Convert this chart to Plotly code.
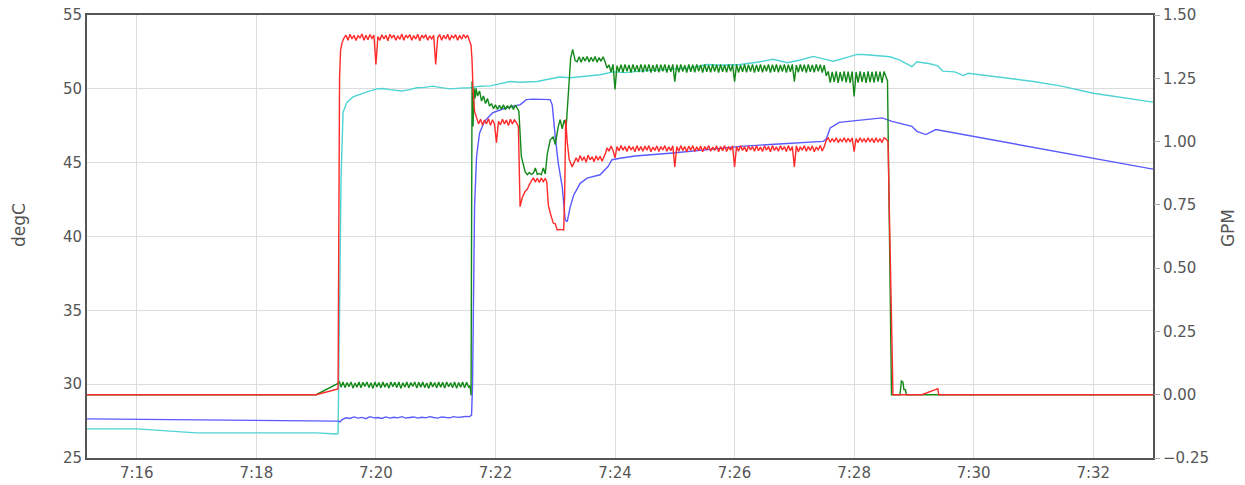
import pandas as pd
import plotly.graph_objects as go

BASE = pd.Timestamp("2024-01-01 07:15:00")

# ---- data: times in seconds after 7:15:00 ----
# regularly sampled bursts are stored as (start_s, step_s, values)

# Red (GPM)
RED_A_T = [10, 240, 262, 263.5, 264.5, 266]
RED_A_V = [0.0, 0.0, 0.023, 1.25, 1.36, 1.39]
RED_J1 = (268, 2, [1.41, 1.42, 1.40, 1.424, 1.405, 1.42, 1.399, 1.418, 1.41, 1.425, 1.40, 1.42, 1.402, 1.423, 1.408, 1.42,
                   1.305,
                   1.415, 1.40, 1.422, 1.405, 1.42, 1.398, 1.424, 1.41, 1.42, 1.40, 1.418, 1.404, 1.425, 1.40, 1.42, 1.41,
                   1.423, 1.40, 1.419, 1.405, 1.424, 1.398, 1.42, 1.41, 1.422, 1.40, 1.418, 1.406, 1.42,
                   1.305,
                   1.41, 1.423, 1.40, 1.42, 1.405, 1.424, 1.40, 1.418, 1.41, 1.422, 1.40, 1.42, 1.404, 1.423, 1.41, 1.42, 1.40])
RED_B_T = [395.5, 396.5, 397.5, 399, 401]
RED_B_V = [1.38, 1.32, 1.20, 1.12, 1.09]
RED_J2 = (403, 2, [1.07, 1.088, 1.065, 1.085, 1.07, 1.09, 1.064, 1.086, 1.07, 0.996, 1.08, 1.066, 1.088, 1.07, 1.085,
                   1.063, 1.088, 1.07, 1.086, 1.075])
RED_C_T = [443, 444.7, 447, 449.8, 452, 454, 456]
RED_C_V = [1.06, 0.743, 0.78, 0.803, 0.812, 0.83, 0.845]
RED_J3 = (458, 2, [0.857, 0.84, 0.855, 0.838, 0.856, 0.842, 0.855])
RED_D_T = [471.5, 473, 475, 478, 480, 482, 485, 488.5, 489.5, 490.5, 492, 494, 497, 499]
RED_D_V = [0.84, 0.75, 0.718, 0.678, 0.675, 0.651, 0.653, 0.651, 0.8, 1.087, 1.0, 0.93, 0.9, 0.92]
RED_J4 = (501, 2, [0.936, 0.92, 0.945, 0.925, 0.94, 0.918, 0.946, 0.928, 0.94, 0.92, 0.944, 0.926, 0.942, 0.922, 0.94])
RED_E_T = [530.5]
RED_E_V = [0.955]
RED_J5 = (532, 2, [0.975, 0.962, 0.982, 0.965, 0.936, 0.98, 0.963, 0.984, 0.966, 0.98,
                   0.961, 0.983, 0.968, 0.978, 0.96, 0.984, 0.964, 0.98, 0.962, 0.982,
                   0.966, 0.984, 0.96, 0.978, 0.965, 0.983, 0.961, 0.98, 0.967, 0.984,
                   0.962, 0.979, 0.964, 0.983, 0.90, 0.98, 0.962, 0.984, 0.965, 0.98,
                   0.96, 0.982, 0.966, 0.984, 0.961, 0.979, 0.964, 0.983, 0.96, 0.98,
                   0.967, 0.984, 0.962, 0.978, 0.965, 0.983, 0.96, 0.98, 0.964, 0.984,
                   0.961, 0.98, 0.966, 0.983, 0.90, 0.98, 0.962, 0.984, 0.965, 0.979,
                   0.96, 0.983, 0.967, 0.98, 0.962, 0.984, 0.964, 0.978, 0.961, 0.983,
                   0.966, 0.98, 0.96, 0.984, 0.965, 0.979, 0.962, 0.983, 0.967, 0.98,
                   0.961, 0.984, 0.964, 0.98, 0.90, 0.983, 0.96, 0.979, 0.966, 0.984,
                   0.962, 0.98, 0.965, 0.983, 0.96, 0.978, 0.967, 0.984, 0.963, 0.98])
RED_J6 = (752, 2, [1.005, 1.015, 0.997, 1.012, 0.999, 1.015, 0.996, 1.01, 1.0, 1.015,
                   0.997, 1.013, 0.998, 1.015, 0.96, 1.012, 0.996, 1.015, 1.0, 1.011,
                   0.997, 1.015, 0.999, 1.013, 0.995, 1.015, 0.998, 1.012, 0.996, 1.015, 1.01])
RED_F_T = [814, 819, 848, 864, 865, 1080]
RED_F_V = [1.0, 0.0, 0.0, 0.024, 0.0, 0.0]

# Green (GPM)
GRN_A_T = [10, 240, 262, 263.5]
GRN_A_V = [0.0, 0.0, 0.045, 0.05]
GRN_J1 = (265, 2, [0.03, 0.05, 0.028, 0.048, 0.032, 0.05, 0.026, 0.046, 0.03, 0.05,
                   0.027, 0.049, 0.033, 0.05, 0.028, 0.047, 0.025, 0.05, 0.031, 0.048,
                   0.027, 0.05, 0.03, 0.046, 0.026, 0.05, 0.032, 0.049, 0.028, 0.05,
                   0.025, 0.047, 0.03, 0.05, 0.027, 0.048, 0.033, 0.05, 0.026, 0.049,
                   0.03, 0.05, 0.028, 0.046, 0.025, 0.05, 0.031, 0.048, 0.027, 0.05,
                   0.03, 0.049, 0.026, 0.05, 0.032, 0.047, 0.028, 0.05, 0.025, 0.048,
                   0.03, 0.05, 0.027, 0.049, 0.03])
GRN_B_T = [394.5, 395.5, 396.5, 397.5, 398.5, 399.5, 400.5, 402, 404, 406, 408, 410, 412, 414, 416, 418]
GRN_B_V = [0.035, -0.003, 1.238, 1.06, 1.21, 1.17, 1.21, 1.18, 1.20, 1.16, 1.18, 1.15, 1.17, 1.14, 1.15, 1.13]
GRN_J2 = (420, 2, [1.145, 1.127, 1.143, 1.128, 1.145, 1.126, 1.142, 1.13, 1.145, 1.127, 1.144, 1.13])
GRN_C_T = [443.5, 446, 449.8]
GRN_C_V = [1.12, 0.94, 0.88]
GRN_J3 = (452, 2, [0.869, 0.878, 0.87, 0.875, 0.896, 0.87, 0.874, 0.869, 0.896, 0.872])
GRN_D_T = [472, 475, 478, 480, 483]
GRN_D_V = [0.95, 1.007, 1.019, 0.988, 1.059]
GRN_J4 = (485, 2, [1.087, 1.05, 1.085, 1.06])
GRN_E_T = [493, 495.5, 497.5, 500]
GRN_E_V = [1.194, 1.33, 1.364, 1.32]
GRN_J5 = (502, 2, [1.315, 1.335, 1.313, 1.334, 1.318, 1.336, 1.314, 1.333, 1.316, 1.336, 1.313, 1.332, 1.317, 1.335, 1.315])
GRN_J6 = (532, 2, [1.29, 1.303, 1.275, 1.305, 1.206, 1.30, 1.276, 1.304, 1.274, 1.305,
                   1.278, 1.303, 1.273, 1.305, 1.277, 1.302, 1.275, 1.305, 1.274, 1.304,
                   1.277, 1.305, 1.273, 1.302, 1.276, 1.305, 1.274, 1.304, 1.278, 1.305,
                   1.273, 1.303, 1.276, 1.305, 1.237, 1.304, 1.274, 1.305, 1.277, 1.302,
                   1.273, 1.305, 1.276, 1.304, 1.274, 1.305, 1.278, 1.303, 1.273, 1.305,
                   1.276, 1.302, 1.274, 1.305, 1.277, 1.304, 1.273, 1.305, 1.276, 1.303,
                   1.274, 1.305, 1.278, 1.304, 1.237, 1.305, 1.273, 1.302, 1.276, 1.305,
                   1.274, 1.304, 1.277, 1.305, 1.273, 1.303, 1.276, 1.305, 1.274, 1.302,
                   1.278, 1.305, 1.273, 1.304, 1.276, 1.305, 1.274, 1.303, 1.277, 1.305,
                   1.273, 1.304, 1.276, 1.305, 1.237, 1.302, 1.274, 1.305, 1.277, 1.304,
                   1.273, 1.305, 1.276, 1.303, 1.274, 1.305, 1.278, 1.304, 1.273, 1.302])
GRN_J7 = (752, 2, [1.26, 1.277, 1.233, 1.275, 1.236, 1.277, 1.232, 1.274, 1.238, 1.277,
                   1.234, 1.276, 1.232, 1.277, 1.178, 1.275, 1.233, 1.277, 1.236, 1.274,
                   1.232, 1.277, 1.235, 1.275, 1.233, 1.277, 1.237, 1.276, 1.232, 1.277, 1.25])
GRN_F_T = [813.5, 817.5, 826, 827.5, 829, 830, 831.5, 832.5, 1080]
GRN_F_V = [1.24, 0.0, 0.0, 0.054, 0.05, 0.02, 0.02, 0.0, 0.0]

# Cyan (degC)
CYAN_T = [10, 60, 120, 184, 240, 260, 262, 263.5, 265, 267, 271, 277, 284, 291, 301, 307, 314, 326, 334, 341, 349,
          357, 364, 374.5, 384.5, 394.5, 404.6, 414.6, 421.6, 434.7, 444.7, 461.8, 472.8, 484.9, 495, 505, 515, 525,
          538, 550, 565, 580, 598, 615, 632, 645, 665.6, 682.7, 698.7, 712.8, 726, 739, 748, 759, 771, 783, 789, 801,
          816, 826, 838, 843, 856, 864, 869, 881, 889.5, 894.5, 926.7, 959.8, 987, 1020, 1080]
CYAN_V = [26.97, 26.97, 26.70, 26.72, 26.70, 26.63, 26.65, 35.0, 44.0, 48.4, 49.1, 49.45, 49.65, 49.8, 50.0, 50.02,
          49.95, 49.85, 49.95, 50.07, 50.1, 50.18, 50.1, 50.0, 50.05, 50.07, 50.18, 50.2, 50.3, 50.5, 50.45, 50.5,
          50.65, 50.8, 50.75, 50.8, 50.85, 50.95, 51.15, 51.1, 51.2, 51.25, 51.3, 51.4, 51.65, 51.6, 51.65, 51.8,
          52.0, 51.77, 51.95, 52.2, 52.05, 51.87, 52.1, 52.33, 52.33, 52.25, 52.17, 51.95, 51.5, 51.83, 51.7, 51.55,
          51.2, 51.15, 50.9, 51.05, 50.8, 50.5, 50.2, 49.7, 49.1]

# Blue (degC)
BLU_A_T = [10, 260, 262, 264]
BLU_A_V = [27.65, 27.53, 27.5, 27.45]
BLU_J1 = (266, 4, [27.6, 27.72, 27.68, 27.78, 27.7, 27.75, 27.66, 27.8, 27.72, 27.74, 27.68, 27.78, 27.7, 27.76,
                   27.72, 27.8, 27.7, 27.74, 27.78, 27.7, 27.76, 27.72, 27.8, 27.74, 27.7, 27.78, 27.76, 27.72,
                   27.8, 27.75, 27.78, 27.82, 27.8])
BLU_B_T = [396, 397, 398, 399, 401, 404, 409, 417, 430, 445, 451, 458, 475, 477, 480, 483, 487, 490, 492, 495, 498.5,
           505, 512, 525, 533, 537, 545, 560, 598, 630, 666, 700, 749, 752, 756, 765, 783, 808, 818, 834, 838, 843,
           852, 862, 899, 1080]
BLU_B_V = [27.9, 30.0, 38.0, 42.0, 45.4, 47.0, 47.8, 48.37, 48.7, 48.93, 49.27, 49.3, 49.27, 48.9, 46.78, 44.97,
           43.38, 41.12, 41.0, 42.0, 42.8, 43.6, 43.95, 44.18, 44.74, 45.2, 45.3, 45.45, 45.65, 45.85, 46.1, 46.25,
           46.44, 46.6, 47.35, 47.73, 47.85, 48.03, 47.8, 47.5, 47.46, 47.12, 46.9, 47.24, 46.78, 44.56]


def burst(b):
    start, step, vals = b
    return [start + i * step for i in range(len(vals))], list(vals)


def assemble(parts):
    ts, vs = [], []
    for p in parts:
        if len(p) == 3:
            t, v = burst(p)
        else:
            t, v = p
        ts += t
        vs += v
    return [BASE + pd.Timedelta(seconds=s) for s in ts], vs


red_x, red_y = assemble([(RED_A_T, RED_A_V), RED_J1, (RED_B_T, RED_B_V), RED_J2, (RED_C_T, RED_C_V), RED_J3,
                         (RED_D_T, RED_D_V), RED_J4, (RED_E_T, RED_E_V), RED_J5, RED_J6, (RED_F_T, RED_F_V)])
grn_x, grn_y = assemble([(GRN_A_T, GRN_A_V), GRN_J1, (GRN_B_T, GRN_B_V), GRN_J2, (GRN_C_T, GRN_C_V), GRN_J3,
                         (GRN_D_T, GRN_D_V), GRN_J4, (GRN_E_T, GRN_E_V), GRN_J5, GRN_J6, GRN_J7, (GRN_F_T, GRN_F_V)])
cyan_x, cyan_y = assemble([(CYAN_T, CYAN_V)])
blu_x, blu_y = assemble([(BLU_A_T, BLU_A_V), BLU_J1, (BLU_B_T, BLU_B_V)])

LW = 1.4
fig = go.Figure()
fig.add_trace(go.Scatter(x=cyan_x, y=cyan_y, mode="lines", line=dict(color="#4fd3d3", width=LW), yaxis="y"))
fig.add_trace(go.Scatter(x=blu_x, y=blu_y, mode="lines", line=dict(color="#5a5aff", width=LW), yaxis="y"))
fig.add_trace(go.Scatter(x=grn_x, y=grn_y, mode="lines", line=dict(color="#14891a", width=LW), yaxis="y2"))
fig.add_trace(go.Scatter(x=red_x, y=red_y, mode="lines", line=dict(color="#ff2a2a", width=LW), yaxis="y2"))

FONT = "DejaVu Sans"
TXT = "#555555"
GRID = "#dddddd"
fig.update_layout(
    width=1245, height=485,
    margin=dict(l=87, r=92, t=15, b=27),
    paper_bgcolor="white", plot_bgcolor="white",
    showlegend=False,
    font=dict(family=FONT, size=15, color=TXT),
    xaxis=dict(
        type="date", automargin=False,
        range=[BASE + pd.Timedelta(seconds=10), BASE + pd.Timedelta(seconds=1080)],
        tick0=BASE + pd.Timedelta(seconds=60), dtick=120000, tickformat="%-H:%M",
        showgrid=True, gridcolor=GRID, gridwidth=1,
        showline=True, linecolor="#555555", linewidth=2, mirror=True,
        ticks="", zeroline=False,
        tickfont=dict(family=FONT, size=15, color=TXT),
    ),
    yaxis=dict(
        automargin=False,
        range=[25, 55], dtick=5, tick0=25,
        showgrid=True, gridcolor=GRID, gridwidth=1,
        showline=True, linecolor="#555555", linewidth=2, mirror=True,
        ticks="", zeroline=False,
        tickfont=dict(family=FONT, size=15, color=TXT),
    ),
    yaxis2=dict(
        overlaying="y", side="right", automargin=False,
        range=[-0.25, 1.5], dtick=0.25, tick0=-0.25, tickformat=".2f",
        showgrid=False, zeroline=False,
        ticks="outside", ticklen=6, tickcolor="#aaaaaa",
        tickfont=dict(family=FONT, size=15, color=TXT),
    ),
    annotations=[
        dict(text="degC", xref="paper", yref="paper", x=0, y=0.526, xanchor="center", yanchor="middle",
             xshift=-68, textangle=-90, showarrow=False, font=dict(family=FONT, size=17, color=TXT)),
        dict(text="GPM", xref="paper", yref="paper", x=1, y=0.519, xanchor="center", yanchor="middle",
             xshift=75, textangle=-90, showarrow=False, font=dict(family=FONT, size=17, color=TXT)),
    ],
)

fig.write_html("out.html", config={"displayModeBar": False},
               post_script="document.body.style.margin='0';")
